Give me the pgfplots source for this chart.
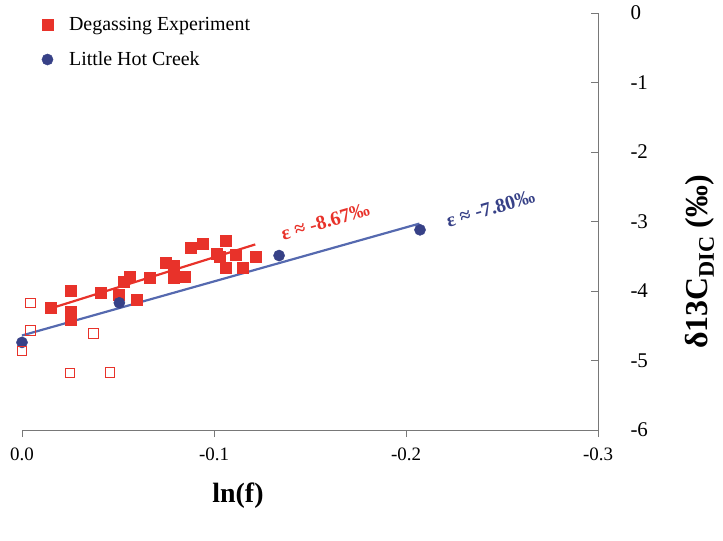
\documentclass[border=0pt]{standalone}
\usepackage{fontspec}
\setmainfont{Liberation Serif}
\usepackage{pgfplots}
\pgfplotsset{compat=1.18}

\definecolor{degred}{RGB}{232,50,42}
\definecolor{lhcblue}{RGB}{55,65,135}
\definecolor{fitblue}{RGB}{85,105,175}
\definecolor{axgray}{RGB}{120,120,120}

\begin{document}
\begin{tikzpicture}
	\begin{axis}[
		scale only axis,
		width=576bp, height=417bp,
		x dir=reverse,
		xmin=-0.3, xmax=0,
		ymin=-6, ymax=0,
		xtick={-0.3,-0.2,-0.1,0},
		xticklabels={-0.3,-0.2,-0.1,0.0},
		ytick={-6,-5,-4,-3,-2,-1,0},
		yticklabels={-6,-5,-4,-3,-2,-1,0},
		axis x line=bottom,
		axis y line=right,
		axis line style={axgray, line width=0.9pt, -},
		tick style={axgray, line width=0.9pt},
		xtick align=outside,
		ytick align=inside,
		major tick length=7bp,
		/pgf/number format/assume math mode=true,
		xticklabel style={font=\fontsize{19}{21}\selectfont, yshift=-7bp},
		yticklabel style={font=\fontsize{21}{23}\selectfont, anchor=west, xshift=29bp},
		xlabel={\textbf{ln(f)}},
		xlabel style={font=\fontsize{28}{30}\selectfont, at={(axis description cs:0.375,-0.158)}, anchor=center},
		ylabel={\textbf{δ13C\textsubscript{DIC} (‰)}},
		ylabel style={font=\fontsize{32}{34}\selectfont, at={(axis description cs:1.177,0.403)}, anchor=center},
		clip=false,
		legend style={draw=none, fill=none, font=\fontsize{20}{22}\selectfont,
			at={(axis description cs:0.029,1.0)}, anchor=north west,
			row sep=16bp, legend cell align=left,
			/tikz/every odd column/.append style={column sep=14bp}},
	]
		% degassing experiment, filled (used in fit)
		\addplot[only marks, mark=square*, mark size=5.5bp, color=degred]
		coordinates{
			(-0.0151,-4.24) (-0.0255,-3.99) (-0.0255,-4.30) (-0.0252,-4.42)
			(-0.0411,-4.02) (-0.0505,-4.05) (-0.0531,-3.87) (-0.0559,-3.79)
			(-0.0595,-4.12) (-0.0663,-3.81) (-0.0750,-3.59) (-0.0788,-3.63)
			(-0.0788,-3.81) (-0.0845,-3.79) (-0.0880,-3.37) (-0.0939,-3.32)
			(-0.1013,-3.47) (-0.1030,-3.50) (-0.1063,-3.28) (-0.1063,-3.66)
			(-0.1113,-3.48) (-0.1149,-3.66) (-0.1215,-3.51)
		};
		\addlegendentry{Degassing Experiment}

		% little hot creek
		\addplot[only marks, mark=*, mark size=5.6bp, color=lhcblue]
		coordinates{(0.0,-4.74) (-0.0507,-4.17) (-0.1339,-3.49) (-0.2073,-3.12)};
		\addlegendentry{Little Hot Creek}

		% degassing experiment, open (excluded)
		\addplot[only marks, mark=square, mark size=4.8bp, color=degred, line width=0.7pt, forget plot]
		coordinates{(-0.0042,-4.17) (-0.0042,-4.57) (0.0,-4.86) (-0.0371,-4.61) (-0.025,-5.18) (-0.0458,-5.17)};

		% fit lines
		\addplot[degred, line width=2.2pt, forget plot] coordinates{(-0.015,-4.25) (-0.1215,-3.33)};
		\addplot[fitblue, line width=2.2pt, forget plot] coordinates{(0.0,-4.64) (-0.207,-3.03)};

		\node[degred, rotate=16, font=\bfseries\fontsize{20}{22}\selectfont] at (axis cs:-0.158,-3.0) {ε ≈ -8.67‰};
		\node[lhcblue, rotate=16, font=\bfseries\fontsize{20}{22}\selectfont] at (axis cs:-0.244,-2.81) {ε ≈ -7.80‰};
	\end{axis}
	\path[use as bounding box] (-22bp,-111bp) rectangle (701bp,430bp);
\end{tikzpicture}
\end{document}
